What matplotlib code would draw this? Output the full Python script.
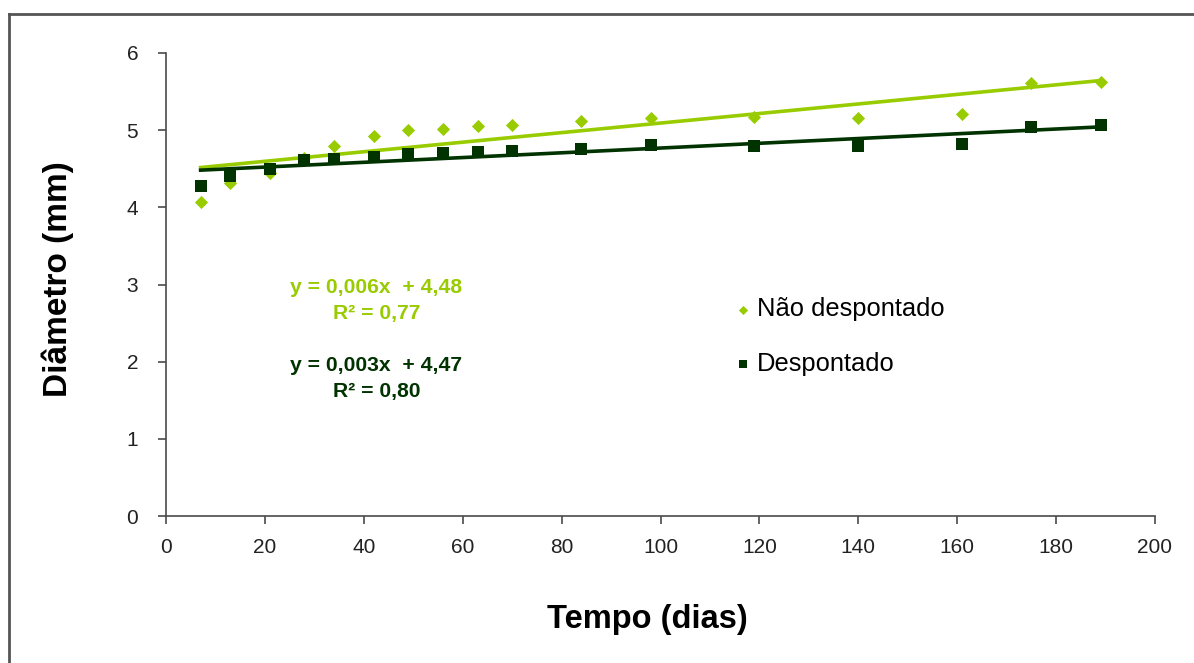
import matplotlib
matplotlib.use("Agg")
import matplotlib.pyplot as plt
import numpy as np
from matplotlib.lines import Line2D

plt.rcParams['font.family'] = ['Liberation Sans', 'DejaVu Sans']

dias = [7, 13, 21, 28, 34, 42, 49, 56, 63, 70, 84, 98, 119, 140, 161, 175, 189]
nao_despontado = [4.07, 4.32, 4.44, 4.64, 4.80, 4.92, 5.00, 5.02, 5.06, 5.07,
                  5.12, 5.16, 5.17, 5.16, 5.21, 5.61, 5.62]
despontado = [4.27, 4.40, 4.50, 4.61, 4.62, 4.65, 4.69, 4.70, 4.72, 4.73,
              4.75, 4.81, 4.80, 4.80, 4.82, 5.04, 5.07]

light = '#99CC00'
dark = '#003300'

W, H = 1194, 663
fig = plt.figure(figsize=(W / 100, H / 100), dpi=100)
ax = fig.add_axes([166 / W, 1 - 516 / H, (1155 - 166) / W, (516 - 53) / H])

x = np.array(dias, dtype=float)
for yv, col in [(nao_despontado, light), (despontado, dark)]:
    m, b = np.polyfit(x, np.array(yv), 1)
    xs = np.array([x.min(), x.max()])
    ax.plot(xs, m * xs + b, color=col, lw=2.6, zorder=2)

ax.scatter(dias, nao_despontado, marker='D', s=45, color=light, zorder=3,
           linewidths=0, label='Não despontado')
ax.scatter(dias, despontado, marker='s', s=70, color=dark, zorder=4,
           linewidths=0, label='Despontado')

ax.set_xlim(0, 200)
ax.set_ylim(0, 6)
ax.set_xticks(range(0, 201, 20))
ax.set_yticks(range(0, 7))
for s in ['top', 'right']:
    ax.spines[s].set_visible(False)
for s in ['left', 'bottom']:
    ax.spines[s].set_color('#4a4a4a')
    ax.spines[s].set_linewidth(1.2)
ax.tick_params(axis='both', direction='out', length=6, width=1.2,
               color='#4a4a4a', labelsize=15, labelcolor='#222222')
ax.tick_params(axis='x', pad=10)
ax.tick_params(axis='y', pad=14)

ax.set_xlabel('Tempo (dias)', fontsize=23.5, fontweight='bold', va='center')
ax.xaxis.set_label_coords(0.487, -0.2246)
ax.set_ylabel('Diâmetro (mm)', fontsize=24, fontweight='bold', va='center')
ax.yaxis.set_label_coords(-0.109, 0.512)

ax.text(0.2128, 0.466, 'y = 0,006x  + 4,48\nR² = 0,77', transform=ax.transAxes,
        ha='center', va='center', color=light, fontsize=15.2, fontweight='bold',
        linespacing=1.45)
ax.text(0.2128, 0.297, 'y = 0,003x  + 4,47\nR² = 0,80', transform=ax.transAxes,
        ha='center', va='center', color=dark, fontsize=15.2, fontweight='bold',
        linespacing=1.45)

leg = ax.legend(loc='upper left', bbox_to_anchor=(0.547, 0.522), frameon=False,
                fontsize=18.4, handletextpad=0.05, labelspacing=1.19,
                handlelength=1.0, markerscale=0.7)

fig.add_artist(Line2D([9 / W, 1], [1 - 14 / H, 1 - 14 / H], color='#555555', lw=2,
                      transform=fig.transFigure))
fig.add_artist(Line2D([9 / W, 9 / W], [0, 1 - 14 / H], color='#555555', lw=2,
                      transform=fig.transFigure))

fig.savefig('out.png', dpi=100)
